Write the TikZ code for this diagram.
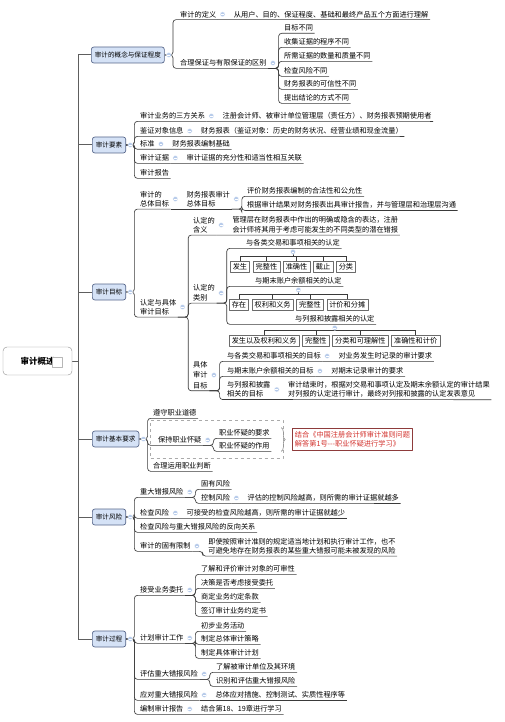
\documentclass[tikz,border=0pt]{standalone}
\usepackage{fontspec}
\setmainfont{Noto Sans CJK SC}
\usetikzlibrary{positioning,fit,backgrounds,decorations.pathreplacing}
\definecolor{cLine}{HTML}{3A3A3A}
\definecolor{cSpine}{HTML}{5E5E5E}
\definecolor{cTopic}{HTML}{D5E2F6}
\definecolor{cTopicEdge}{HTML}{56668A}
\definecolor{cFold}{HTML}{B7CBEA}
\definecolor{cNote}{HTML}{D2322D}
\definecolor{cNoteEdge}{HTML}{8E3B3B}
\definecolor{cDash}{HTML}{AAAAAA}
\tikzset{
  root/.style={draw=cSpine!70, rounded corners=4pt, fill=white, minimum width=69pt,
               minimum height=28pt, font=\fontsize{8.5}{10}\selectfont\bfseries},
  rootsq/.style={draw=cSpine!45, fill=white, minimum size=9.5pt, inner sep=0pt},
  topic/.style={draw=cTopicEdge, fill=cTopic, rounded corners=2.5pt, line width=0.7pt,
                minimum height=16pt, inner xsep=3.5pt, inner ysep=0pt, anchor=west,
                font=\fontsize{6.6}{8}\selectfont},
  itm/.style={anchor=west, inner xsep=1.5pt, inner ysep=1.8pt, align=left},
  kbox/.style={draw=cLine!75, fill=white, line width=0.5pt, inner xsep=2.5pt, inner ysep=0pt,
               minimum height=11pt},
  fold/.style={circle, fill=cFold, draw=white, line width=0.3pt, minimum size=5pt, inner sep=0pt,
               path picture={\draw[white, line width=0.6pt]
                 ([xshift=-1.4pt]path picture bounding box.center) --
                 ([xshift=1.4pt]path picture bounding box.center);}},
  ln/.style={draw=cLine, line width=0.65pt, rounded corners=3pt},
  spine/.style={draw=cSpine, line width=1pt},
  dashbox/.style={draw=cDash, dashed, line width=0.5pt, inner xsep=6pt, inner ysep=7pt},
  brace/.style={draw=cSpine!70, line width=0.6pt, decorate, decoration={brace, amplitude=4pt}},
  note/.style={draw=cNoteEdge, line width=0.8pt, anchor=west, align=left, text=cNote,
               inner xsep=2.5pt, inner ysep=3pt}
}

\begin{document}
\begin{tikzpicture}[x=1pt, y=-1pt, font=\fontsize{7.2}{9.5}\selectfont, line join=round]
\useasboundingbox (0,0) rectangle (504,722);
% root and main topics
\node[root] (root) at (37.5,361) {审计概述\hspace{12pt}};
\node[rootsq] (rootsq) at (57,362) {};
\coordinate (sx) at (78,361);
\node[topic] (t1) at (91,55) {审计的概念与保证程度};
\node[topic] (t2) at (92,145) {审计要素};
\node[topic] (t3) at (92,292) {审计目标};
\node[topic] (t4) at (92,439) {审计基本要求};
\node[topic] (t5) at (92,517) {审计风险};
\node[topic] (t6) at (92,639) {审计过程};
\foreach \t in {t1,t2,t3,t4,t5,t6}
  \node[fold, right=1.5pt of \t] (f\t) {};

% 1: concept and assurance
\node[itm] (s1a) at (178.5,14.3) {审计的定义};
\node[fold, right=2pt of s1a] (fs1a) {};
\node[itm, right=7pt of fs1a] (s1a1) {从用户、目的、保证程度、基础和最终产品五个方面进行理解};
\node[itm] (s1b) at (178.5,63) {合理保证与有限保证的区别};
\node[fold, right=2pt of s1b] (fs1b) {};
\foreach \n/\y/\s in {1/28/目标不同, 2/42/收集证据的程序不同, 3/56/所需证据的数量和质量不同,
                      4/71/检查风险不同, 5/84/财务报表的可信性不同, 6/98/提出结论的方式不同}
  \node[itm] (s1b\n) at (282.5,\y) {\s};

% 2: elements
\node[itm] (s2a) at (138.5,116) {审计业务的三方关系};
\node[fold, right=2pt of s2a] (fs2a) {};
\node[itm, right=7pt of fs2a] (s2a1) {注册会计师、被审计单位管理层（责任方）、财务报表预期使用者};
\node[itm] (s2b) at (138.5,131) {鉴证对象信息};
\node[fold, right=2pt of s2b] (fs2b) {};
\node[itm, right=7pt of fs2b] (s2b1) {财务报表（鉴证对象：历史的财务状况、经营业绩和现金流量）};
\node[itm] (s2c) at (138.5,144) {标准};
\node[fold, right=2pt of s2c] (fs2c) {};
\node[itm, right=7pt of fs2c] (s2c1) {财务报表编制基础};
\node[itm] (s2d) at (138.5,158) {审计证据};
\node[fold, right=2pt of s2d] (fs2d) {};
\node[itm, right=7pt of fs2d] (s2d1) {审计证据的充分性和适当性相互关联};
\node[itm] (s2e) at (138.5,173) {审计报告};

% 3: objectives
\node[itm] (s3a) at (138.5,199) {审计的\\总体目标};
\node[fold, right=2pt of s3a] (fs3a) {};
\node[itm, right=7pt of fs3a] (s3a1) {财务报表审计\\总体目标};
\node[fold, right=2pt of s3a1] (fs3a1) {};
\node[itm] (s3a1a) at (245.5,191) {评价财务报表编制的合法性和公允性};
\node[itm] (s3a1b) at (245.5,205) {根据审计结果对财务报表出具审计报告，并与管理层和治理层沟通};
\node[itm] (s3b) at (138.5,307) {认定与具体\\审计目标};
\node[fold, right=2pt of s3b] (fs3b) {};
\node[itm] (s3b1) at (191.5,225) {认定的\\含义};
\node[fold, right=2pt of s3b1] (fs3b1) {};
\node[itm, right=7pt of fs3b1] (s3b1a) {管理层在财务报表中作出的明确或隐含的表达，注册\\会计师将其用于考虑可能发生的不同类型的潜在错报};
\node[itm] (s3b2) at (191.5,293) {认定的\\类别};
\node[fold, right=2pt of s3b2] (fs3b2) {};
\node[itm] (k1h) at (244.5,243) {与各类交易和事项相关的认定};
\node[fold] (fk1) at ([yshift=-3.5pt]k1h.south) {};
\node[kbox, anchor=west] (k1a) at (230,267) {发生};
\node[kbox, right=3pt of k1a] (k1b) {完整性};
\node[kbox, right=3pt of k1b] (k1c) {准确性};
\node[kbox, right=3pt of k1c] (k1d) {截止};
\node[kbox, right=3pt of k1d] (k1e) {分类};
\node[itm] (k2h) at (253.5,281) {与期末账户余额相关的认定};
\node[fold] (fk2) at ([yshift=-3.5pt]k2h.south) {};
\node[kbox, anchor=west] (k2a) at (229,305) {存在};
\node[kbox, right=3pt of k2a] (k2b) {权利和义务};
\node[kbox, right=3pt of k2b] (k2c) {完整性};
\node[kbox, right=3pt of k2c] (k2d) {计价和分摊};
\node[itm] (k3h) at (293.5,319) {与列报和披露相关的认定};
\node[fold] (fk3) at ([yshift=-3.5pt]k3h.south) {};
\node[kbox, anchor=west] (k3a) at (229,341) {发生以及权利和义务};
\node[kbox, right=3pt of k3a] (k3b) {完整性};
\node[kbox, right=3pt of k3b] (k3c) {分类和可理解性};
\node[kbox, right=3pt of k3c] (k3d) {准确性和计价};
\node[itm] (s3b3) at (191.5,375) {具体\\[1pt]审计\\[1pt]目标};
\node[fold, right=2pt of s3b3] (fs3b3) {};
\node[itm] (g1) at (225.5,356) {与各类交易和事项相关的目标};
\node[fold, right=2pt of g1] (fg1) {};
\node[itm, right=7pt of fg1] (g1a) {对业务发生时记录的审计要求};
\node[itm] (g2) at (225.5,371) {与期末账户余额相关的目标};
\node[fold, right=2pt of g2] (fg2) {};
\node[itm, right=7pt of fg2] (g2a) {对期末记录审计的要求};
\node[itm] (g3) at (225.5,389.5) {与列报和披露\\相关的目标};
\node[fold, right=2pt of g3] (fg3) {};
\node[itm, right=7pt of fg3] (g3a) {审计结束时，根据对交易和事项认定及期末余额认定的审计结果\\对列报的认定进行审计，最终对列报和披露的认定发表意见};

% 4: basic requirements
\node[itm] (r1) at (151.5,413) {遵守职业道德};
\node[itm] (r2) at (156.5,440) {保持职业怀疑};
\node[fold, right=2pt of r2] (fr2) {};
\node[itm] (r2a) at (217.5,433) {职业怀疑的要求};
\node[itm] (r2b) at (217.5,446) {职业怀疑的作用};
\node[itm] (r3) at (151.5,466) {合理运用职业判断};
\coordinate (r2e) at ([xshift=6pt]r2a.east);
\node[dashbox, fit=(r2)(r2a)(r2b)(r2e)] (grp) {};
\draw[brace] ([xshift=10pt]r2a.north east) -- ([xshift=10pt]r2b.south east);
\node[note] (nt) at (292,439.5) {结合《中国注册会计师审计准则问题\\解答第1号-{}-{}-职业怀疑进行学习》};

% 5: audit risk
\node[itm] (q1) at (138.5,492) {重大错报风险};
\node[fold, right=2pt of q1] (fq1) {};
\node[itm] (q1a) at (199.5,484) {固有风险};
\node[itm] (q1b) at (199.5,498) {控制风险};
\node[fold, right=2pt of q1b] (fq1b) {};
\node[itm, right=7pt of fq1b] (q1b1) {评估的控制风险越高，则所需的审计证据就越多};
\node[itm] (q2) at (138.5,513) {检查风险};
\node[fold, right=2pt of q2] (fq2) {};
\node[itm, right=7pt of fq2] (q2a) {可接受的检查风险越高，则所需的审计证据就越少};
\node[itm] (q3) at (138.5,527) {检查风险与重大错报风险的反向关系};
\node[itm] (q4) at (138.5,546) {审计的固有限制};
\node[fold, right=2pt of q4] (fq4) {};
\node[itm, right=7pt of fq4] (q4a) {即使按照审计准则的规定适当地计划和执行审计工作，也不\\可避免地存在财务报表的某些重大错报可能未被发现的风险};

% 6: audit process
\node[itm] (p1) at (138.5,590) {接受业务委托};
\node[fold, right=2pt of p1] (fp1) {};
\foreach \n/\y/\s in {a/569/了解和评价审计对象的可审性, b/583/决策是否考虑接受委托,
                      c/597/商定业务约定条款, d/611/签订审计业务约定书}
  \node[itm] (p1\n) at (199.5,\y) {\s};
\node[itm] (p2) at (138.5,638) {计划审计工作};
\node[fold, right=2pt of p2] (fp2) {};
\foreach \n/\y/\s in {a/626/初步业务活动, b/639/制定总体审计策略, c/653/制定具体审计计划}
  \node[itm] (p2\n) at (199.5,\y) {\s};
\node[itm] (p3) at (138.5,674) {评估重大错报风险};
\node[fold, right=2pt of p3] (fp3) {};
\node[itm] (p3a) at (214.5,667) {了解被审计单位及其环境};
\node[itm] (p3b) at (214.5,681) {识别和评估重大错报风险};
\node[itm] (p4) at (138.5,695) {应对重大错报风险};
\node[fold, right=2pt of p4] (fp4) {};
\node[itm, right=7pt of fp4] (p4a) {总体应对措施、控制测试、实质性程序等};
\node[itm] (p5) at (138.5,709) {编制审计报告};
\node[fold, right=2pt of p5] (fp5) {};
\node[itm, right=7pt of fp5] (p5a) {结合第18、19章进行学习};

% connectors
\begin{scope}[on background layer]
\foreach \t in {t1,t2,t3,t4,t5,t6}
  \draw[spine] (root.east) -| (sx |- \t.west) -- (\t.west);
% topic brackets
\foreach \t/\c in {t1/s1a, t1/s1b, t2/s2a, t2/s2b, t2/s2c, t2/s2d, t2/s2e, t3/s3a, t3/s3b,
                   t4/r1, t4/r2, t4/r3, t5/q1, t5/q2, t5/q3, t5/q4,
                   t6/p1, t6/p2, t6/p3, t6/p4, t6/p5}
  \draw[ln] (\t.east) -| ([xshift=1.5pt]f\t.east |- \c.south) -- (\c.south east);
% inline children
\foreach \a/\b in {s1a/s1a1, s2a/s2a1, s2b/s2b1, s2c/s2c1, s2d/s2d1, s3a/s3a1, s3b1/s3b1a,
                   g1/g1a, g2/g2a, g3/g3a, q1b/q1b1, q2/q2a, p4/p4a, p5/p5a}
  \draw[ln] (\a.south east) -- (\b.south east);
% sub brackets
\foreach \p/\c in {s1b/s1b1, s1b/s1b2, s1b/s1b3, s1b/s1b4, s1b/s1b5, s1b/s1b6,
                   s3a1/s3a1a, s3a1/s3a1b, s3b/s3b1, s3b/s3b2, s3b/s3b3,
                   s3b2/k1h, s3b2/k2h, s3b2/k3h, s3b3/g1, s3b3/g2, s3b3/g3,
                   r2/r2a, r2/r2b, q1/q1a, q1/q1b, q4/q4a,
                   p1/p1a, p1/p1b, p1/p1c, p1/p1d, p2/p2a, p2/p2b, p2/p2c, p3/p3a, p3/p3b}
  \draw[ln] (\p.south east) -| ([xshift=3pt]f\p.east |- \c.south) -- (\c.south east);
% assertion trees
\foreach \f/\k in {fk1/k1a, fk1/k1b, fk1/k1c, fk1/k1d, fk1/k1e,
                   fk2/k2a, fk2/k2b, fk2/k2c, fk2/k2d,
                   fk3/k3a, fk3/k3b, fk3/k3c, fk3/k3d}
  \draw[ln, sharp corners] (\f.center) |- ([yshift=5pt]\k.north) -- (\k.north);
\end{scope}
\end{tikzpicture}
\end{document}
